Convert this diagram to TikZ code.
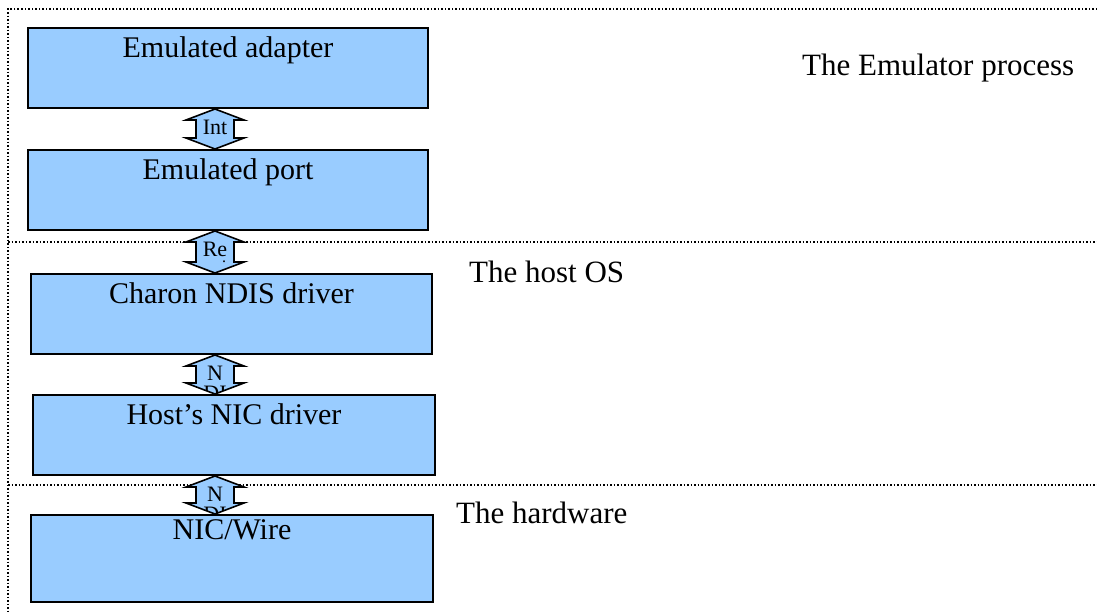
\documentclass[tikz,border=0pt]{standalone}
\usepackage{fontspec}
\setmainfont{Liberation Serif}
\usetikzlibrary{calc}
\definecolor{layerBlue}{RGB}{153,204,255}
\tikzstyle{layer} = [rectangle, draw, line width=2pt, fill=layerBlue, minimum width=400pt, minimum height=80pt, anchor=north west, inner sep=0pt]
\tikzstyle{layerText} = [anchor=north, inner sep=0pt, yshift=-9pt, font=\fontsize{30}{36}\selectfont]
\tikzstyle{zone} = [draw, dotted, line width=1.5pt]
\tikzstyle{zoneText} = [anchor=west, inner sep=0pt, font=\fontsize{31}{36}\selectfont]
\tikzstyle{bridge} = [draw, line width=1.6pt, fill=layerBlue]
\tikzstyle{tag} = [anchor=north, inner sep=0pt, align=center, font=\fontsize{22}{20}\selectfont]
\newcommand{\bridgeOutline}{(top) -- ($(top)+(29,11)$) -- ($(top)+(19,11)$) -- ($(bot)+(19,-11)$) -- ($(bot)+(29,-11)$) -- (bot) -- ($(bot)+(-29,-11)$) -- ($(bot)+(-19,-11)$) -- ($(top)+(-19,11)$) -- ($(top)+(-29,11)$) -- cycle}
\newcommand{\bridgeArrow}[3]{%
  \coordinate (top) at (axis |- #1.south);
  \coordinate (bot) at (axis |- #2.north);
  \path[bridge] \bridgeOutline;
  \begin{scope}
    \clip \bridgeOutline;
    \node[tag] at ($(top)+(0,11)$) {#3};
  \end{scope}
}
\begin{document}
\begin{tikzpicture}[x=1pt, y=-1pt]
\useasboundingbox (0,0) rectangle (1097,614);

% dotted zones
\draw[zone] (1097,9) -- (8,9) -- (8,614);
\draw[zone] (8,242) -- (1097,242);
\draw[zone] (8,485) -- (1097,485);

\coordinate (axis) at (215,0);

\node[layer] at (27,27) (adapter) [label={[layerText]north:Emulated adapter}] {};
\node[layer] at (27,149) (port) [label={[layerText]north:Emulated port}] {};
\node[layer, minimum width=401pt] at (30,273) (ndis) [label={[layerText]north:Charon NDIS driver}] {};
\node[layer, minimum width=402pt] at (32,394) (nic) [label={[layerText]north:Host's NIC driver}] {};
\node[layer, minimum width=402pt, minimum height=87pt] at (30,514) (wire) [label={[layerText, yshift=4pt]north:NIC/Wire}] {};

\node[zoneText] at (802,68) (emuLabel) {The Emulator process};
\node[zoneText] at (469,272) (hostLabel) {The host OS};
\node[zoneText] at (456,513) (hwLabel) {The hardware};

\bridgeArrow{adapter}{port}{Int}
\bridgeArrow{port}{ndis}{Re}
\bridgeArrow{ndis}{nic}{N\\DI}
\bridgeArrow{nic}{wire}{N\\DI}

\node[tag, font=\fontsize{16}{16}\selectfont] at (224,261) (reDot) {.};

\end{tikzpicture}
\end{document}
